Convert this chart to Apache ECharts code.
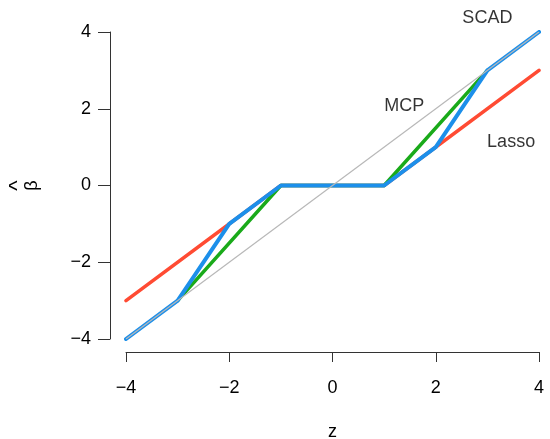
<!DOCTYPE html>
<html><head><meta charset="utf-8">
<script src="https://cdn.jsdelivr.net/npm/echarts@6/dist/echarts.min.js"></script>
<style>html,body{margin:0;padding:0;background:#fff}#c{width:550px;height:439px}</style>
</head><body><div id="c"></div>
<script>
var zTicks = [-4, -2, 0, 2, 4];
var lassoZ = [-4, -1, 1, 4];
var lassoB = [-3, 0, 0, 3];
var mcpZ = [-3, -1, 1, 3];
var mcpB = [-3, 0, 0, 3];
var scadZ = [-4, -3, -2, -1, 1, 2, 3, 4];
var scadB = [-4, -3, -1, 0, 0, 1, 3, 4];
var idZ = [-4, 4];
var idB = [-4, 4];
var labelNames = ['SCAD', 'MCP', 'Lasso'];
var labelZ = [3.0, 1.39, 3.46];
var labelB = [4.36, 2.08, 1.13];

function pts(x, y) { return x.map(function (v, i) { return [v, y[i]]; }); }
var font = 'Liberation Sans, Arial, sans-serif';
var chart = echarts.init(document.getElementById('c'));
chart.setOption({
  animation: false,
  grid: { left: 126, right: 11, top: 32, bottom: 100, containLabel: false, outerBoundsMode: 'none' },
  xAxis: {
    type: 'value', min: -4, max: 4, interval: 2, offset: 13,
    name: 'z', nameLocation: 'middle', nameGap: 71,
    nameTextStyle: { fontFamily: font, fontSize: 18, color: '#000' },
    axisLine: { show: true, onZero: false, lineStyle: { color: '#333', width: 1 } },
    axisTick: { show: true, length: 10, lineStyle: { color: '#333' } },
    axisLabel: { fontFamily: font, fontSize: 18, color: '#000', margin: 27,
      formatter: function (v) { return v < 0 ? '\u2212' + (-v) : '' + v; } },
    splitLine: { show: false }
  },
  yAxis: {
    type: 'value', min: -4, max: 4, interval: 2, offset: 16,
    name: '{h|^}\n{b|\u03B2}', nameLocation: 'middle', nameGap: 70, nameRotate: 90,
    nameTextStyle: { fontFamily: font, fontSize: 18, color: '#000',
      rich: {
        h: { fontFamily: font, fontSize: 22, lineHeight: 12, color: '#000' },
        b: { fontFamily: font, fontSize: 18, lineHeight: 16, color: '#000' }
      } },
    axisLine: { show: true, onZero: false, lineStyle: { color: '#333', width: 1 } },
    axisTick: { show: true, length: 12, lineStyle: { color: '#333' } },
    axisLabel: { fontFamily: font, fontSize: 18, color: '#000', margin: 19,
      formatter: function (v) { return v < 0 ? '\u2212' + (-v) : '' + v; } },
    splitLine: { show: false }
  },
  series: [
    { type: 'line', data: pts(lassoZ, lassoB), symbol: 'none', z: 2,
      lineStyle: { color: '#FF4B33', width: 3.5, cap: 'round', join: 'round' } },
    { type: 'line', data: pts(mcpZ, mcpB), symbol: 'none', z: 3,
      lineStyle: { color: '#1AAA1A', width: 3.5, cap: 'round', join: 'round' } },
    { type: 'line', data: pts(scadZ, scadB), symbol: 'none', z: 4,
      lineStyle: { color: '#1C8FEA', width: 4, cap: 'round', join: 'round' } },
    { type: 'line', data: pts(idZ, idB), symbol: 'none', z: 5,
      lineStyle: { color: '#B8B8B8', width: 1.2 } },
    { type: 'scatter', clip: false, symbolSize: 0, z: 6,
      data: labelNames.map(function (n, i) { return { name: n, value: [labelZ[i], labelB[i]] }; }),
      label: { show: true, position: 'inside', formatter: '{b}', fontFamily: font, fontSize: 18, color: '#000', textBorderWidth: 0 } }
  ]
});
</script></body></html>
